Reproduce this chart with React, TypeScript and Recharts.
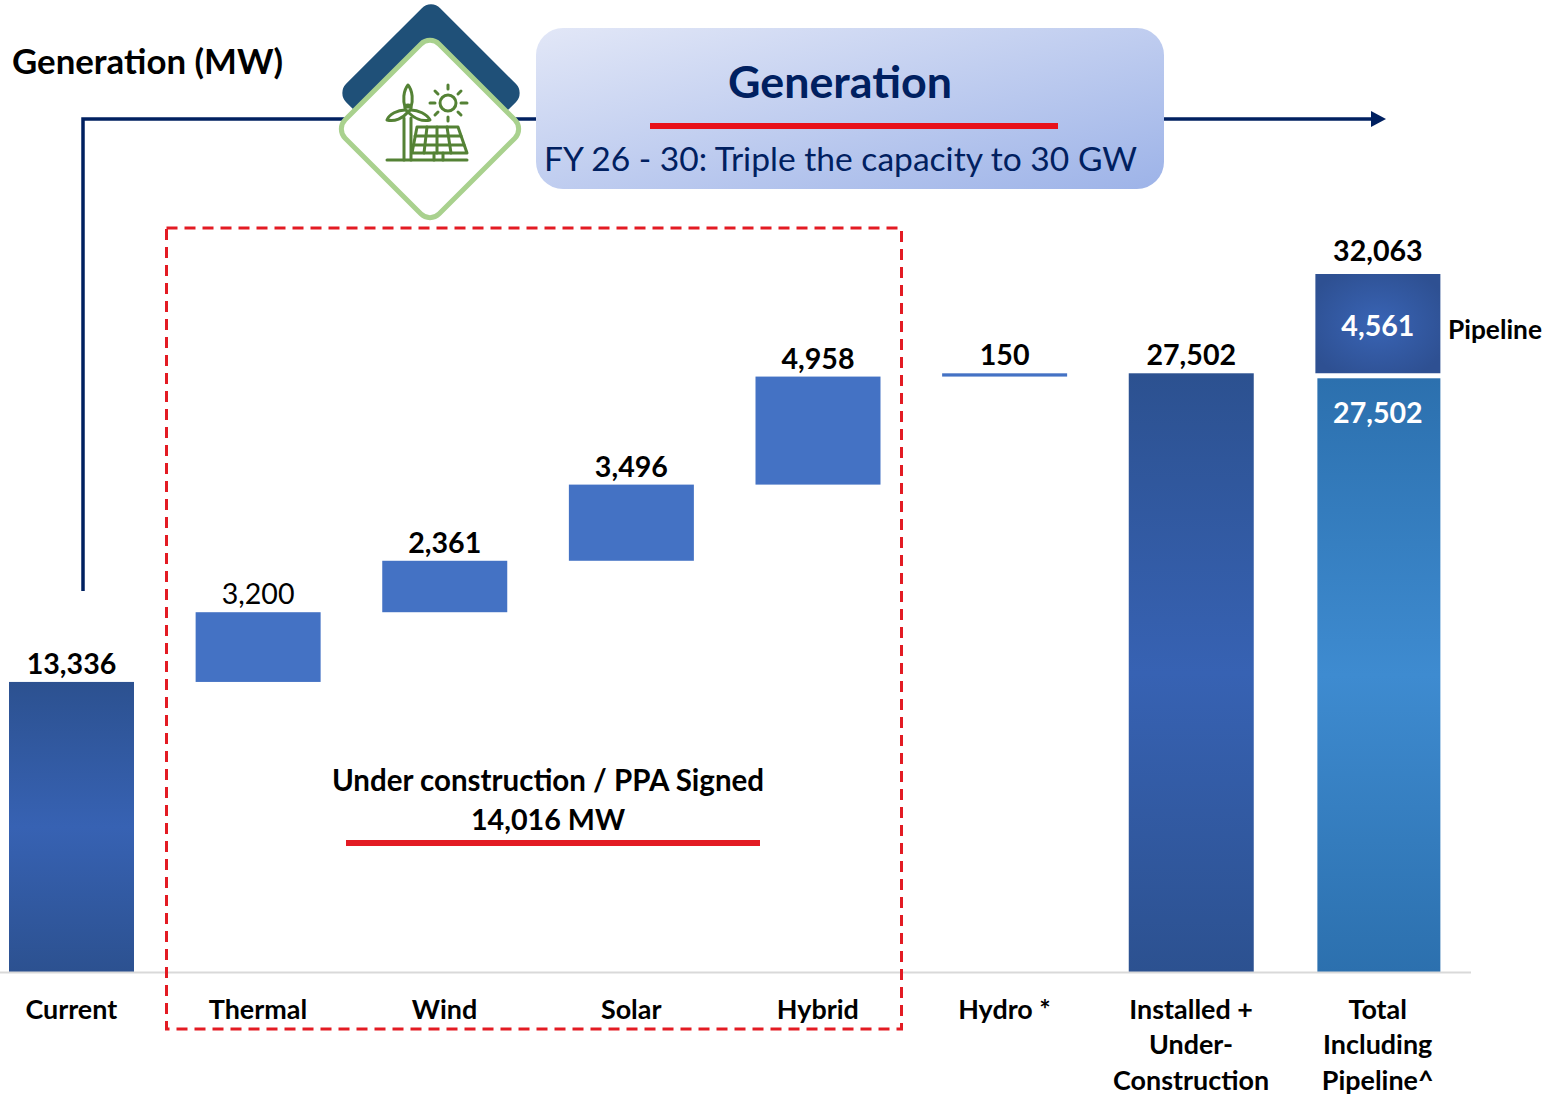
import React from 'react';
import { ComposedChart, Bar, XAxis, YAxis, Cell, LabelList } from 'recharts';

const categories = ['Current', 'Thermal', 'Wind', 'Solar', 'Hybrid', 'Hydro *', 'Installed + Under- Construction', 'Total Including Pipeline^'];
const tickLines = [['Current'], ['Thermal'], ['Wind'], ['Solar'], ['Hybrid'], ['Hydro *'], ['Installed +', 'Under-', 'Construction'], ['Total', 'Including', 'Pipeline^']];
const baseValues = [0, 13336, 16536, 18897, 22393, 27351, 0, 0];
const mainValues = [13336, 3200, 2361, 3496, 4958, 150, 27502, 27502];
const pipelineValues = [0, 0, 0, 0, 0, 0, 0, 4561];
const topLabels = ['13,336', '3,200', '2,361', '3,496', '4,958', '150', '27,502', '32,063'];
const mainFills = ['url(#navyBar)', '#4472C4', '#4472C4', '#4472C4', '#4472C4', '#4472C4', 'url(#navyBar)', 'url(#tealBar)'];

const data = categories.map((name, i) => ({
  name,
  base: baseValues[i],
  main: mainValues[i],
  pipeline: pipelineValues[i],
  top: topLabels[i],
}));

const FONT = 'Lato, sans-serif';
const NAVY = '#002060';

const AxisTick = (props: any) => {
  const { x, index } = props;
  return (
    <g>
      {tickLines[index].map((line, i) => (
        <text key={line} x={x} y={1008 + 35.5 * i} textAnchor="middle" dominantBaseline="central" fontFamily={FONT} fontWeight={700} fontSize={26.9} fill="#000">
          {line}
        </text>
      ))}
    </g>
  );
};

// zero height pipeline bars get no label, so the plain bars are labelled from the main series
const MainLabel = (props: any) => {
  const { x, y, width, index } = props;
  const isTotal = index === 7;
  return (
    <text x={x + width / 2} y={isTotal ? y + 39 : y - 19} textAnchor="middle" dominantBaseline="central" fontFamily={FONT} fontWeight={index === 1 ? 400 : 700} fontSize={28.6} fill={isTotal ? '#fff' : '#000'}>
      {isTotal ? mainValues[index].toLocaleString('en-US') : topLabels[index]}
    </text>
  );
};

const TotalLabel = (props: any) => {
  const { x, y, width, value } = props;
  return (
    <text x={x + width / 2} y={y - 24} textAnchor="middle" dominantBaseline="central" fontFamily={FONT} fontWeight={700} fontSize={28.6} fill="#000">
      {value}
    </text>
  );
};

const PipelineLabel = (props: any) => {
  const { x, y, width, height, value } = props;
  return (
    <text x={x + width / 2} y={y + height / 2 + 1} textAnchor="middle" dominantBaseline="central" fontFamily={FONT} fontWeight={700} fontSize={28.6} fill="#fff">
      {Number(value).toLocaleString('en-US')}
    </text>
  );
};

// the total bar sits a little lower and narrower than the pipeline block on top of it
const MainShape = (props: any) => {
  const { x, y, width, height, fill, index } = props;
  if (index === 7) return <rect x={x + 2} y={y + 5} width={width - 2} height={height - 5} fill={fill} />;
  return <rect x={x} y={y} width={width} height={height} fill={fill} />;
};

const Header = () => (
  <svg width={1544} height={1096} style={{ position: 'absolute', left: 0, top: 0 }}>
    <defs>
      <linearGradient id="panel" x1="0" y1="0" x2="1" y2="1">
        <stop offset="0%" stopColor="#e2e7f7" />
        <stop offset="100%" stopColor="#9db3e8" />
      </linearGradient>
    </defs>

    <text x={12} y={60} dominantBaseline="central" fontFamily={FONT} fontWeight={700} fontSize={34.8} fill="#000">Generation (MW)</text>

    <polyline points="83,591 83,119 1374,119" fill="none" stroke={NAVY} strokeWidth={3.5} />
    <polygon points="1371,111 1386,119 1371,127" fill={NAVY} />

    <rect x={364.5} y={26.5} width={133} height={133} rx={13} fill="#1F5078" transform="rotate(45 431 93)" />
    <rect x={363.5} y={62.5} width={133} height={133} rx={13} fill="#fff" stroke="#A9D18E" strokeWidth={5} transform="rotate(45 430 129)" />

    <g fill="none" stroke="#548235" strokeWidth={3} strokeLinecap="round" strokeLinejoin="round">
      <path d="M387,160 H467" />
      <path d="M404,160 V118 M411,160 V118" />
      <path d="M408,85 C403,91 403,101 405,107 H411 C413,101 413,91 408,85 Z" />
      <circle cx={408} cy={108} r={3} />
      <path d="M405,110 C398,110 389,114 387,120 C395,122 403,118 407,113" />
      <path d="M411,110 C418,110 427,114 430,120 C422,122 414,118 409,113" />
      <path d="M417,127 H458 L467,153 H412 Z" />
      <path d="M415,136 H461 M413,145 H464 M427,127 L424,153 M437,127 V153 M447,127 L451,153" />
      <path d="M434,153 V160 M443,153 V160" />
      <circle cx={448} cy={103} r={8} />
      <path d="M448,85 V89 M448,117 V121 M430,103 H435 M461,103 H467 M435,91 L438,94 M461,91 L458,94 M435,115 L438,112 M461,115 L458,112" />
    </g>

    <rect x={536} y={28} width={628} height={161} rx={27} fill="url(#panel)" />
    <text x={840} y={81} textAnchor="middle" dominantBaseline="central" fontFamily={FONT} fontWeight={700} fontSize={44.8} fill={NAVY}>Generation</text>
    <rect x={650} y={123} width={408} height={6} fill="#E8111A" />
    <text x={544} y={158} dominantBaseline="central" fontFamily={FONT} fontSize={33.6} fill={NAVY}>FY 26 - 30: Triple the capacity to 30 GW</text>

    <rect x={166.5} y={228} width={735} height={801} fill="none" stroke="#E31B23" strokeWidth={3} strokeDasharray="11 7" />
    <text x={548} y={779} textAnchor="middle" dominantBaseline="central" fontFamily={FONT} fontWeight={700} fontSize={29.5} fill="#000">Under construction / PPA Signed</text>
    <text x={548} y={819} textAnchor="middle" dominantBaseline="central" fontFamily={FONT} fontWeight={700} fontSize={28.7} fill="#000">14,016 MW</text>
    <rect x={346} y={840} width={414} height={6} fill="#E31B23" />

    <text x={1448} y={329} dominantBaseline="central" fontFamily={FONT} fontWeight={700} fontSize={26.3} fill="#000">Pipeline</text>
  </svg>
);

export default function App() {
  return (
    <div style={{ position: 'absolute', left: 0, top: 0, width: 1544, height: 1096, overflow: 'hidden', background: '#fff' }}>
      <div style={{ position: 'absolute', left: -22.2, top: 0 }}>
        <ComposedChart width={1493} height={1096} data={data} margin={{ top: 253.5, right: 0, bottom: 0, left: 0 }} barSize={125}>
          <defs>
            <linearGradient id="navyBar" x1="0" y1="0" x2="0" y2="1">
              <stop offset="0%" stopColor="#2C5190" />
              <stop offset="50%" stopColor="#3762B3" />
              <stop offset="100%" stopColor="#2C5190" />
            </linearGradient>
            <linearGradient id="tealBar" x1="0" y1="0" x2="0" y2="1">
              <stop offset="0%" stopColor="#2C70AE" />
              <stop offset="50%" stopColor="#3E8BD0" />
              <stop offset="100%" stopColor="#2C70AE" />
            </linearGradient>
            <radialGradient id="pipelineBar" cx="50%" cy="50%" r="60%">
              <stop offset="0%" stopColor="#3964B5" />
              <stop offset="100%" stopColor="#2E5092" />
            </radialGradient>
          </defs>
          <XAxis dataKey="name" height={123.5} interval={0} axisLine={{ stroke: '#D9D9D9', strokeWidth: 2 }} tickLine={false} tick={<AxisTick />} />
          <YAxis hide domain={[0, 33000]} />
          <Bar dataKey="base" stackId="a" fill="none" isAnimationActive={false} />
          <Bar dataKey="main" stackId="a" isAnimationActive={false} shape={<MainShape />}>
            {mainFills.map((fill, i) => (
              <Cell key={i} fill={fill} />
            ))}
            <LabelList content={<MainLabel />} />
          </Bar>
          <Bar dataKey="pipeline" stackId="a" fill="url(#pipelineBar)" isAnimationActive={false}>
            <LabelList dataKey="pipeline" content={<PipelineLabel />} />
            <LabelList dataKey="top" content={<TotalLabel />} />
          </Bar>
        </ComposedChart>
      </div>
      <Header />
    </div>
  );
}
